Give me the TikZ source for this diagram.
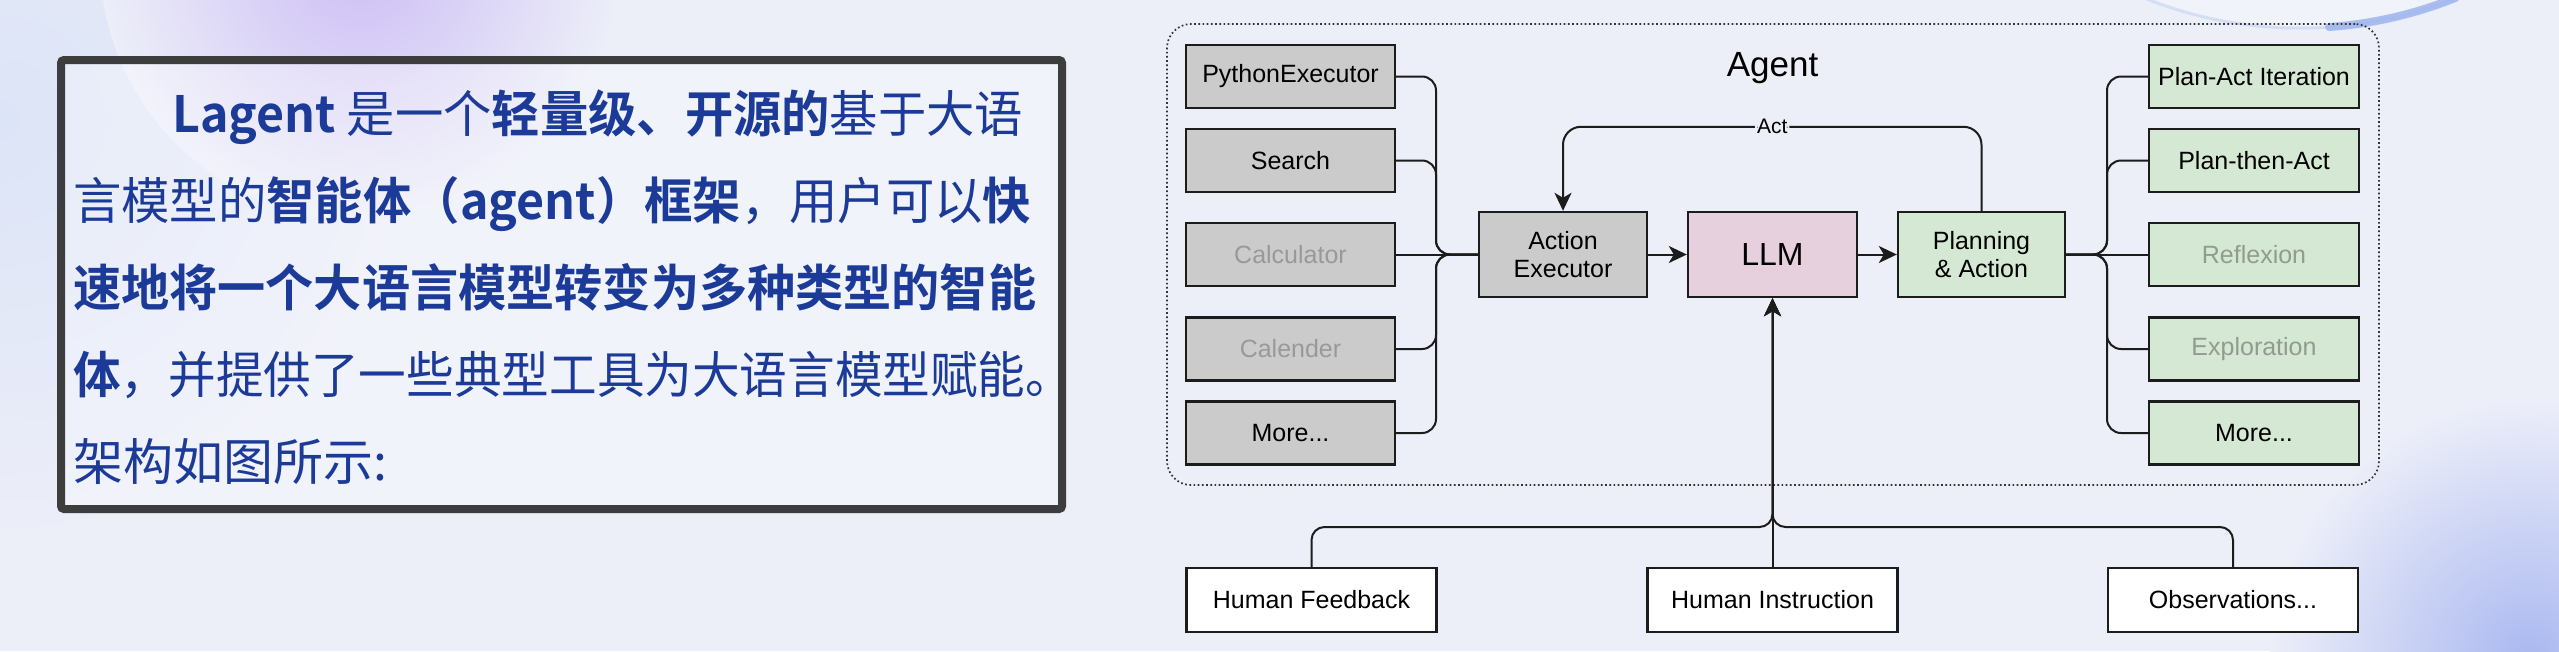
\documentclass[tikz,border=0pt]{standalone}
\usepackage{fontspec}
\usepackage{graphicx}
\setmainfont{Liberation Sans}
\newfontfamily\cjk{Noto Sans CJK SC}[BoldFont={Noto Sans CJK SC Bold}]
\usetikzlibrary{arrows.meta}
\definecolor{bg}{HTML}{ECEEF8}
\definecolor{glowpurple}{HTML}{CDBEF5}
\definecolor{glowblue}{HTML}{AAB8F0}
\definecolor{glowleft}{HTML}{DCE4F7}
\definecolor{rimblue}{HTML}{9DB5EE}
\definecolor{edge}{HTML}{1C1C1C}
\definecolor{toolgray}{HTML}{CBCBCB}
\definecolor{plangreen}{HTML}{D5E8D4}
\definecolor{llmpink}{HTML}{E6D0DE}
\definecolor{disabled}{HTML}{999999}
\definecolor{disgreen}{HTML}{929B90}
\definecolor{frame}{HTML}{3D3D3D}
\definecolor{txtblue}{HTML}{1C3A98}
\newcommand\fitline[2]{\resizebox{#1}{\height}{#2}}
\begin{document}
\begin{tikzpicture}[x=1pt,y=-1pt,
  box/.style={draw=edge, line width=2.4pt, minimum height=63pt, inner sep=0pt,
    font=\fontsize{25}{28}\selectfont},
  tool/.style={box, fill=toolgray, minimum width=209pt},
  plan/.style={box, fill=plangreen, minimum width=210pt},
  human/.style={box, fill=white, minimum width=250pt, minimum height=64pt},
  core/.style={box, minimum width=168pt, minimum height=85pt, align=center},
  conn/.style={draw=edge, line width=2pt, rounded corners=14pt},
  arr/.style={conn, -{Stealth[length=18pt,width=17pt,inset=5pt]}},
  container/.style={draw=black!80, line width=1.7pt, dash pattern=on 1.7pt off 2.5pt,
    rounded corners=24pt, minimum width=1212pt, minimum height=461pt, inner sep=0pt},
  cjkline/.style={anchor=base west, inner sep=0pt, text=txtblue,
    font=\cjk\fontsize{50}{50}\selectfont},
  actlabel/.style={fill=bg, inner sep=2pt, font=\fontsize{21}{24}\selectfont}
]
\useasboundingbox (0,0) rectangle (2559,651);
% background
\begin{scope}
\clip (0,0) rectangle (2559,651);
\fill[bg] (0,0) rectangle (2559,651);
\shade[inner color=glowleft, outer color=bg] (0,120) circle (420);
\shade[inner color=glowpurple, outer color=bg] (360,-40) circle (260);
\shade[inner color=glowblue, outer color=bg] (2530,660) circle (260);
\fill[white, opacity=0.3] (2300,-388) circle (416);
\draw[rimblue, line width=3pt, opacity=0.3] (2300,-388) circle (416);
\draw[rimblue, line width=8pt, opacity=0.85, line cap=round]
  (2300,-388) ++(86:416) arc[start angle=86, end angle=68, radius=416];
\end{scope}

% left text frame
\node[draw=frame, line width=8pt, rounded corners=3pt, fill=white, fill opacity=0.3,
  minimum width=1001pt, minimum height=449pt, inner sep=0pt] (frame) at (561.5,284.5) {};
\node[cjkline] (l1) at (172,132) {\fitline{851pt}{{\bfseries Lagent} 是一个{\bfseries 轻量级、开源的}基于大语}};
\node[cjkline] (l2) at (73,219) {\fitline{958pt}{言模型的{\bfseries 智能体（agent）框架}，用户可以{\bfseries 快}}};
\node[cjkline] (l3) at (73,306) {\fitline{963pt}{\bfseries 速地将一个大语言模型转变为多种类型的智能}};
\node[cjkline] (l4) at (73,393) {\fitline{1000pt}{{\bfseries 体}，并提供了一些典型工具为大语言模型赋能。}};
\node[cjkline] (l5) at (73,480) {架构如图所示:};

% agent container
\node[container] (agentbox) at (1773,254.5) {};
\node[font=\fontsize{35}{40}\selectfont, inner sep=0pt] (agent) at (1772.5,68) {Agent};

% tools
\node[tool] (py) at (1290.5,76.5) {PythonExecutor};
\node[tool] (se) at (1290.5,160.5) {Search};
\node[tool, text=disabled] (ca) at (1290.5,254.5) {Calculator};
\node[tool, text=disabled] (cl) at (1290.5,349) {Calender};
\node[tool] (mo) at (1290.5,433) {More...};

% plans
\node[plan] (pai) at (2254,76.5) {Plan-Act Iteration};
\node[plan] (pta) at (2254,160.5) {Plan-then-Act};
\node[plan, text=disgreen] (ref) at (2254,254.5) {Reflexion};
\node[plan, text=disgreen] (exp) at (2254,349) {Exploration};
\node[plan] (pmo) at (2254,433) {More...};

% core
\node[core, fill=toolgray] (ae) at (1563,254.5) {Action\\Executor};
\node[core, fill=llmpink, minimum width=169pt, font=\fontsize{32}{36}\selectfont] (llm) at (1772.5,254.5) {LLM};
\node[core, fill=plangreen, minimum width=167pt] (pa) at (1981.5,254.5) {Planning\\\& Action};

% human inputs
\node[human] (hf) at (1311.5,600) {Human Feedback};
\node[human] (hi) at (1772.5,600) {Human Instruction};
\node[human] (ob) at (2233,600) {Observations...};

% left connectors
\coordinate (lt) at (1436,254.5);
\draw[conn] (py.east) -| (lt) -- (ae.west);
\draw[conn] (se.east) -| (lt) -- (ae.west);
\draw[conn] (ca.east) -- (ae.west);
\draw[conn] (cl.east) -| (lt) -- (ae.west);
\draw[conn] (mo.east) -| (lt) -- (ae.west);

% right connectors
\coordinate (rt) at (2107,254.5);
\draw[conn] (pa.east) -- (rt) |- (pai.west);
\draw[conn] (pa.east) -- (rt) |- (pta.west);
\draw[conn] (pa.east) -- (ref.west);
\draw[conn] (pa.east) -- (rt) |- (exp.west);
\draw[conn] (pa.east) -- (rt) |- (pmo.west);

% main flow
\draw[arr] (ae.east) -- (llm.west);
\draw[arr] (llm.east) -- (pa.west);
\draw[arr, rounded corners=18pt] (pa.north) -- ++(0,-84) -| node[pos=0.25, actlabel] (act) {Act} (ae.north);

% human inputs to LLM
\coordinate (bt) at (1772.5,527);
\draw[arr, rounded corners=13pt] (hf.north) |- (bt) -- (llm.south);
\draw[arr, rounded corners=13pt] (ob.north) |- (bt) -- (llm.south);
\draw[arr] (hi.north) -- (llm.south);
\end{tikzpicture}
\end{document}
